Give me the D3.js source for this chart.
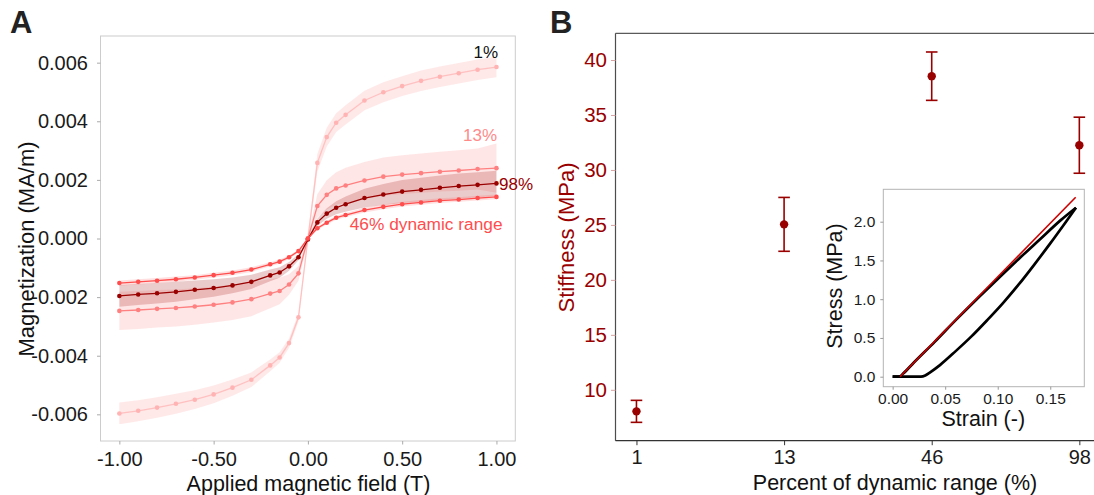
<!DOCTYPE html>
<html><head><meta charset="utf-8">
<script src="https://cdn.jsdelivr.net/npm/d3@7"></script>
<style>
body{margin:0;background:#fff;}
svg{display:block;font-family:"Liberation Sans",Arial,Helvetica,sans-serif;}
</style>
</head><body>
<svg id="c" width="1094" height="495"></svg>
<script>
// ---------- Panel A data ----------
const fieldT = [-1,-0.9,-0.8,-0.7,-0.6,-0.5,-0.4,-0.3,-0.2,-0.15,-0.1,-0.05,0,0.05,0.1,0.15,0.2,0.3,0.4,0.5,0.6,0.7,0.8,0.9,1];
const mag1  = [-0.00597,-0.00588,-0.00577,-0.00564,-0.00550,-0.00532,-0.00509,-0.00482,-0.00433,-0.00406,-0.00357,-0.00269,0,0.00258,0.00346,0.00395,0.00422,0.00471,0.00499,0.00520,0.00538,0.00552,0.00564,0.00576,0.00585];
const sd1   = [0.00037,0.00036,0.00035,0.00034,0.00032,0.00030,0.00028,0.00025,0.00020,0.00018,0.00016,0.00014,0.00010,0.00030,0.00032,0.00032,0.00033,0.00033,0.00034,0.00034,0.00035,0.00035,0.00035,0.00035,0.00035];
const mag13 = [-0.00247,-0.00244,-0.00240,-0.00237,-0.00232,-0.00226,-0.00218,-0.00207,-0.00188,-0.00179,-0.00157,-0.00119,0,0.00111,0.00149,0.00171,0.00181,0.00198,0.00211,0.00218,0.00223,0.00228,0.00232,0.00237,0.00240];
const sd13  = [0.00065,0.00065,0.00064,0.00063,0.00062,0.00061,0.00060,0.00058,0.00050,0.00045,0.00035,0.00025,0.00010,0.00040,0.00050,0.00055,0.00060,0.00063,0.00065,0.00066,0.00067,0.00068,0.00069,0.00070,0.00084];
const mag46 = [-0.00152,-0.00148,-0.00144,-0.00139,-0.00133,-0.00125,-0.00117,-0.00106,-0.00088,-0.00079,-0.00064,-0.00043,0,0.00035,0.00054,0.00071,0.00080,0.00097,0.00108,0.00117,0.00123,0.00129,0.00133,0.00138,0.00142];
const sd46  = [0.00009,0.00009,0.00009,0.00009,0.00008,0.00008,0.00008,0.00008,0.00007,0.00007,0.00006,0.00005,0.00003,0.00005,0.00006,0.00007,0.00007,0.00008,0.00008,0.00008,0.00008,0.00008,0.00008,0.00008,0.00008];
const mag98 = [-0.00196,-0.00191,-0.00187,-0.00182,-0.00175,-0.00169,-0.00160,-0.00148,-0.00126,-0.00116,-0.00095,-0.00064,-0.00003,0.00055,0.00085,0.00105,0.00117,0.00138,0.00150,0.00160,0.00166,0.00173,0.00179,0.00183,0.00188];
const sd98  = [0.00037,0.00036,0.00035,0.00034,0.00032,0.00030,0.00027,0.00024,0.00020,0.00018,0.00015,0.00010,0.00003,0.00012,0.00018,0.00022,0.00026,0.00032,0.00036,0.00040,0.00041,0.00042,0.00043,0.00043,0.00043];
const seriesNames = ["1%","13%","98%","46%"];
const magTicks = [-0.006,-0.004,-0.002,0,0.002,0.004,0.006];
const magTickLabels = ["-0.006","-0.004","-0.002","0.000","0.002","0.004","0.006"];
const fieldTicks = [-1,-0.5,0,0.5,1];
const fieldTickLabels = ["-1.00","-0.50","0.00","0.50","1.00"];

// ---------- Panel B data ----------
const rangeCats = ["1","13","46","98"];
const stiffMean = [8.04,25.05,38.53,32.25];
const stiffErr  = [1.00,2.45,2.20,2.55];
const stiffTicks = [10,15,20,25,30,35,40];

// ---------- Inset data ----------
const strainLoad   = [0,0.004,0.007,0.010,0.020,0.040,0.060,0.080,0.100,0.120,0.140,0.160,0.1745];
const stressLoad   = [0,0,0.005,0.04,0.18,0.45,0.73,1.00,1.26,1.52,1.77,2.02,2.18];
const strainUnload = [0,0.027,0.031,0.035,0.045,0.060,0.075,0.090,0.105,0.120,0.135,0.150,0.165,0.1745];
const stressUnload = [0,0,0.015,0.05,0.15,0.33,0.52,0.73,0.95,1.19,1.45,1.72,2.00,2.18];
const strainFit = [0.007,0.1742];
const stressFit = [0,2.315];
const strainTicks = [0,0.05,0.1,0.15];
const strainTickLabels = ["0.00","0.05","0.10","0.15"];
const stressTicks = [0,0.5,1,1.5,2];
const stressTickLabels = ["0.0","0.5","1.0","1.5","2.0"];

// ---------- styles ----------
const styleA = {
  "1%":  {col:"#ffb3b3", band:"#ffb3b3", bandOp:0.30, lineOp:0.75, data:[mag1,sd1]},
  "13%": {col:"#ff8080", band:"#ff9a9a", bandOp:0.25, lineOp:1, data:[mag13,sd13]},
  "98%": {col:"#990000", band:"#990000", bandOp:0.20, lineOp:1, data:[mag98,sd98]},
  "46%": {col:"#ff4d4d", band:"#ff4d4d", bandOp:0.18, lineOp:1, data:[mag46,sd46]}
};
const darkRed = "#990000";
const svg = d3.select("#c");

// ================= Panel A =================
const xA = d3.scaleLinear().domain([-1.1,1.1]).range([100.5,515.3]);
const yA = d3.scaleLinear().domain([-0.00691,0.00691]).range([441,36]);
const gA = svg.append("g");

const series = seriesNames.map(n => ({
  name:n, st:styleA[n],
  pts: fieldT.map((x,i)=>({x:x, m:styleA[n].data[0][i], s:styleA[n].data[1][i]}))
}));

const area = d3.area().x(d=>xA(d.x)).y0(d=>yA(d.m-d.s)).y1(d=>yA(d.m+d.s));
const line = d3.line().x(d=>xA(d.x)).y(d=>yA(d.m));

series.forEach(s=>{
  gA.append("path").attr("d",area(s.pts)).attr("fill",s.st.band).attr("fill-opacity",s.st.bandOp);
});
series.forEach(s=>{
  gA.append("path").attr("d",line(s.pts)).attr("fill","none").attr("stroke",s.st.col)
    .attr("stroke-width",1.3).attr("stroke-opacity",s.st.lineOp);
  gA.selectAll(null).data(s.pts).enter().append("circle")
    .attr("cx",d=>xA(d.x)).attr("cy",d=>yA(d.m)).attr("r",2.3).attr("fill",s.st.col);
});

gA.append("rect").attr("x",100.5).attr("y",36).attr("width",414.8).attr("height",405)
  .attr("fill","none").attr("stroke","#cccccc").attr("stroke-width",1);

const axYA = gA.append("g").attr("transform","translate(100.5,0)")
  .call(d3.axisLeft(yA).tickValues(magTicks).tickFormat((d,i)=>magTickLabels[i]).tickSize(3.5).tickPadding(9));
const axXA = gA.append("g").attr("transform","translate(0,441)")
  .call(d3.axisBottom(xA).tickValues(fieldTicks).tickFormat((d,i)=>fieldTickLabels[i]).tickSize(3.5).tickPadding(7));
[axYA,axXA].forEach(a=>{
  a.select(".domain").remove();
  a.selectAll("line").attr("stroke","#aaaaaa");
  a.selectAll("text").attr("fill","#1a1a1a").style("font-size","20px").style("font-family",'"Liberation Sans",Arial,sans-serif');
});

gA.append("text").attr("x",498).attr("y",57.5).attr("text-anchor","end").attr("fill","#111").style("font-size","17px").text("1%");
gA.append("text").attr("x",497).attr("y",141).attr("text-anchor","end").attr("fill","#ff8a8a").style("font-size","17px").text("13%");
gA.append("text").attr("x",499).attr("y",190).attr("text-anchor","start").attr("fill",darkRed).style("font-size","17px").text("98%");
gA.append("text").attr("x",502.5).attr("y",230).attr("text-anchor","end").attr("fill","#ff4d4d").style("font-size","17.3px").text("46% dynamic range");

gA.append("text").attr("x",308.5).attr("y",490.5).attr("text-anchor","middle").attr("fill","#111").style("font-size","21.5px").text("Applied magnetic field (T)");
gA.append("text").attr("transform","translate(34,249) rotate(-90)").attr("text-anchor","middle").attr("fill","#111").style("font-size","22px").text("Magnetization (MA/m)");
svg.append("text").attr("x",10).attr("y",33).attr("fill","#222").style("font-size","31px").style("font-weight","bold").text("A");

// ================= Panel B =================
const idx = rangeCats.map((c,i)=>i);
const xB = d3.scaleLinear().domain([-0.142,3.142]).range([615.5,1100.3]);
const yB = d3.scaleLinear().domain([5.37,42.43]).range([440.7,33.3]);
const gB = svg.append("g");

gB.append("line").attr("x1",615.5).attr("x2",615.5).attr("y1",33.3).attr("y2",440.7).attr("stroke","#4d4d4d").attr("stroke-width",1.2);
gB.append("line").attr("x1",615.5).attr("x2",1094).attr("y1",33.3).attr("y2",33.3).attr("stroke","#5a5a5a").attr("stroke-width",1.2);
gB.append("line").attr("x1",615.5).attr("x2",1094).attr("y1",440.7).attr("y2",440.7).attr("stroke","#333").attr("stroke-width",1.2);

const axYB = gB.append("g").attr("transform","translate(615.5,0)")
  .call(d3.axisLeft(yB).tickValues(stiffTicks).tickFormat(d3.format("d")).tickSize(4.5).tickPadding(4));
axYB.select(".domain").remove();
axYB.selectAll("line").attr("stroke","#d9a3a3");
axYB.selectAll("text").attr("fill",darkRed).style("font-size","20.5px").style("font-family",'"Liberation Sans",Arial,sans-serif');

const axXB = gB.append("g").attr("transform","translate(0,440.7)")
  .call(d3.axisBottom(xB).tickValues(idx).tickFormat((d,i)=>rangeCats[i]).tickSize(4.5).tickPadding(5));
axXB.select(".domain").remove();
axXB.selectAll("line").attr("stroke","#333");
axXB.selectAll("text").attr("fill","#1a1a1a").style("font-size","20px").style("font-family",'"Liberation Sans",Arial,sans-serif');

const eb = gB.selectAll(null).data(idx).enter().append("g");
eb.append("line").attr("x1",i=>xB(i)).attr("x2",i=>xB(i))
  .attr("y1",i=>yB(stiffMean[i]-stiffErr[i])).attr("y2",i=>yB(stiffMean[i]+stiffErr[i]))
  .attr("stroke",darkRed).attr("stroke-width",1.6);
eb.append("line").attr("x1",i=>xB(i)-5.8).attr("x2",i=>xB(i)+5.8)
  .attr("y1",i=>yB(stiffMean[i]+stiffErr[i])).attr("y2",i=>yB(stiffMean[i]+stiffErr[i]))
  .attr("stroke",darkRed).attr("stroke-width",1.6);
eb.append("line").attr("x1",i=>xB(i)-5.8).attr("x2",i=>xB(i)+5.8)
  .attr("y1",i=>yB(stiffMean[i]-stiffErr[i])).attr("y2",i=>yB(stiffMean[i]-stiffErr[i]))
  .attr("stroke",darkRed).attr("stroke-width",1.6);
eb.append("circle").attr("cx",i=>xB(i)).attr("cy",i=>yB(stiffMean[i])).attr("r",4.2).attr("fill",darkRed);

gB.append("text").attr("x",895).attr("y",490).attr("text-anchor","middle").attr("fill","#111").style("font-size","21.5px").text("Percent of dynamic range (%)");
gB.append("text").attr("transform","translate(574,237.5) rotate(-90)").attr("text-anchor","middle").attr("fill",darkRed).style("font-size","22px").text("Stiffness (MPa)");
svg.append("text").attr("x",550).attr("y",33).attr("fill","#222").style("font-size","31px").style("font-weight","bold").text("B");

// ================= Inset =================
const xI = d3.scaleLinear().domain([-0.0089,0.1824]).range([883.3,1084.3]);
const yI = d3.scaleLinear().domain([-0.129,2.418]).range([386.7,189.3]);
const gI = svg.append("g");
gI.append("rect").attr("x",883.3).attr("y",189.3).attr("width",201).attr("height",197.4)
  .attr("fill","#fff").attr("stroke","#b3b3b3").attr("stroke-width",1);

const lineI = d3.line().x(d=>xI(d[0])).y(d=>yI(d[1])).curve(d3.curveMonotoneX);
gI.append("path").attr("d",lineI(strainLoad.map((s,i)=>[s,stressLoad[i]])))
  .attr("fill","none").attr("stroke","#000").attr("stroke-width",2.7).attr("stroke-linejoin","round");
gI.append("path").attr("d",lineI(strainUnload.map((s,i)=>[s,stressUnload[i]])))
  .attr("fill","none").attr("stroke","#000").attr("stroke-width",2.7).attr("stroke-linejoin","round");
gI.append("path").attr("d",d3.line().x(d=>xI(d[0])).y(d=>yI(d[1]))(strainFit.map((s,i)=>[s,stressFit[i]])))
  .attr("fill","none").attr("stroke","#cc0000").attr("stroke-width",1.6);

const axYI = gI.append("g").attr("transform","translate(883.3,0)")
  .call(d3.axisLeft(yI).tickValues(stressTicks).tickFormat((d,i)=>stressTickLabels[i]).tickSize(3).tickPadding(5));
const axXI = gI.append("g").attr("transform","translate(0,386.7)")
  .call(d3.axisBottom(xI).tickValues(strainTicks).tickFormat((d,i)=>strainTickLabels[i]).tickSize(3).tickPadding(3.5));
[axYI,axXI].forEach(a=>{
  a.select(".domain").remove();
  a.selectAll("line").attr("stroke","#999");
  a.selectAll("text").attr("fill","#1a1a1a").style("font-size","15.5px").style("font-family",'"Liberation Sans",Arial,sans-serif');
});
gI.append("text").attr("x",983.3).attr("y",425.5).attr("text-anchor","middle").attr("fill","#111").style("font-size","21.5px").text("Strain (-)");
gI.append("text").attr("transform","translate(842,286) rotate(-90)").attr("text-anchor","middle").attr("fill","#111").style("font-size","21.5px").text("Stress (MPa)");
</script>
</body></html>
